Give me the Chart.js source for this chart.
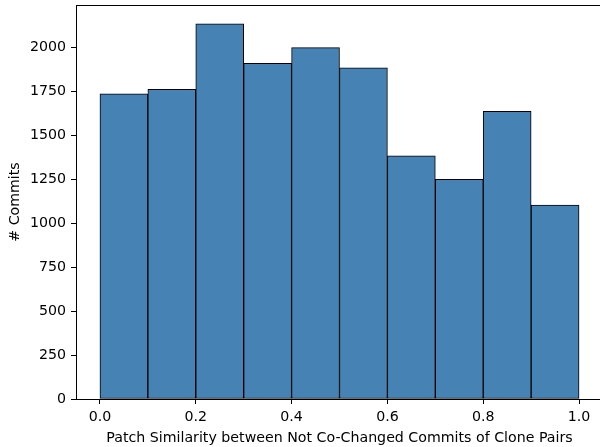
<!DOCTYPE html>
<html>
<head>
<meta charset="utf-8">
<script src="https://cdn.jsdelivr.net/npm/chart.js@4/dist/chart.umd.min.js"></script>
<style>
html,body{margin:0;padding:0;background:#fff;overflow:hidden;}
#wrap{width:600px;height:447px;position:relative;overflow:hidden;}
</style>
</head>
<body>
<div id="wrap"><canvas id="c" width="604" height="447"></canvas></div>
<script>
const binEdges = [0.0,0.1,0.2,0.3,0.4,0.5,0.6,0.7,0.8,0.9,1.0];
const counts = [1734,1760,2132,1908,1997,1882,1382,1248,1635,1102];
const xTicks = [0.0,0.2,0.4,0.6,0.8,1.0];
const yTicks = [0,250,500,750,1000,1250,1500,1750,2000];
const xLabel = 'Patch Similarity between Not Co-Changed Commits of Clone Pairs';
const yLabel = '# Commits';

const points = counts.map((v,i)=>({x:(binEdges[i]+binEdges[i+1])/2, y:v}));
const font = {family:'DejaVu Sans', size:14.2};

const frame = {
  id:'frame',
  afterDraw(chart){
    const {ctx, chartArea:a} = chart;
    ctx.save();
    ctx.strokeStyle='#000';
    ctx.lineWidth=1;
    ctx.strokeRect(Math.round(a.left)+0.5, Math.round(a.top)+0.5, Math.round(a.right-a.left), Math.round(a.bottom-a.top));
    ctx.restore();
  }
};

new Chart(document.getElementById('c'), {
  type:'bar',
  data:{datasets:[{
    data:points,
    backgroundColor:'#4682B4',
    borderColor:'#000000',
    borderWidth:1,
    borderSkipped:false,
    barPercentage:1,
    categoryPercentage:1
  }]},
  options:{
    responsive:false,
    animation:false,
    devicePixelRatio:1,
    layout:{padding:{top:5,right:1,left:0,bottom:0}},
    plugins:{legend:{display:false},tooltip:{enabled:false}},
    scales:{
      x:{
        type:'linear',
        offset:false,
        min:-0.05, max:1.05,
        afterBuildTicks(s){ s.ticks = xTicks.map(v=>({value:v})); },
        afterFit(s){ s.height = 48; s.paddingLeft = 0; s.paddingRight = 0; },
        ticks:{color:'#000', font:font, padding:5, maxRotation:0,
          callback:(v)=>Number(v).toFixed(1)},
        grid:{offset:false, drawOnChartArea:false, tickLength:5, tickColor:'#000'},
        border:{color:'#000', width:1},
        title:{display:true, text:xLabel, color:'#000', font:font, padding:{top:0,bottom:0}}
      },
      y:{
        min:0, max:2239,
        afterBuildTicks(s){ s.ticks = yTicks.map(v=>({value:v})); },
        afterFit(s){ s.width = 76; s.paddingTop = 0; s.paddingBottom = 0; },
        ticks:{color:'#000', font:font, padding:5, callback:(v)=>String(v)},
        grid:{drawOnChartArea:false, tickLength:5, tickColor:'#000'},
        border:{color:'#000', width:1},
        title:{display:true, text:yLabel, color:'#000', font:font, padding:{top:7,bottom:0}}
      }
    }
  },
  plugins:[frame]
});
</script>
</body>
</html>
